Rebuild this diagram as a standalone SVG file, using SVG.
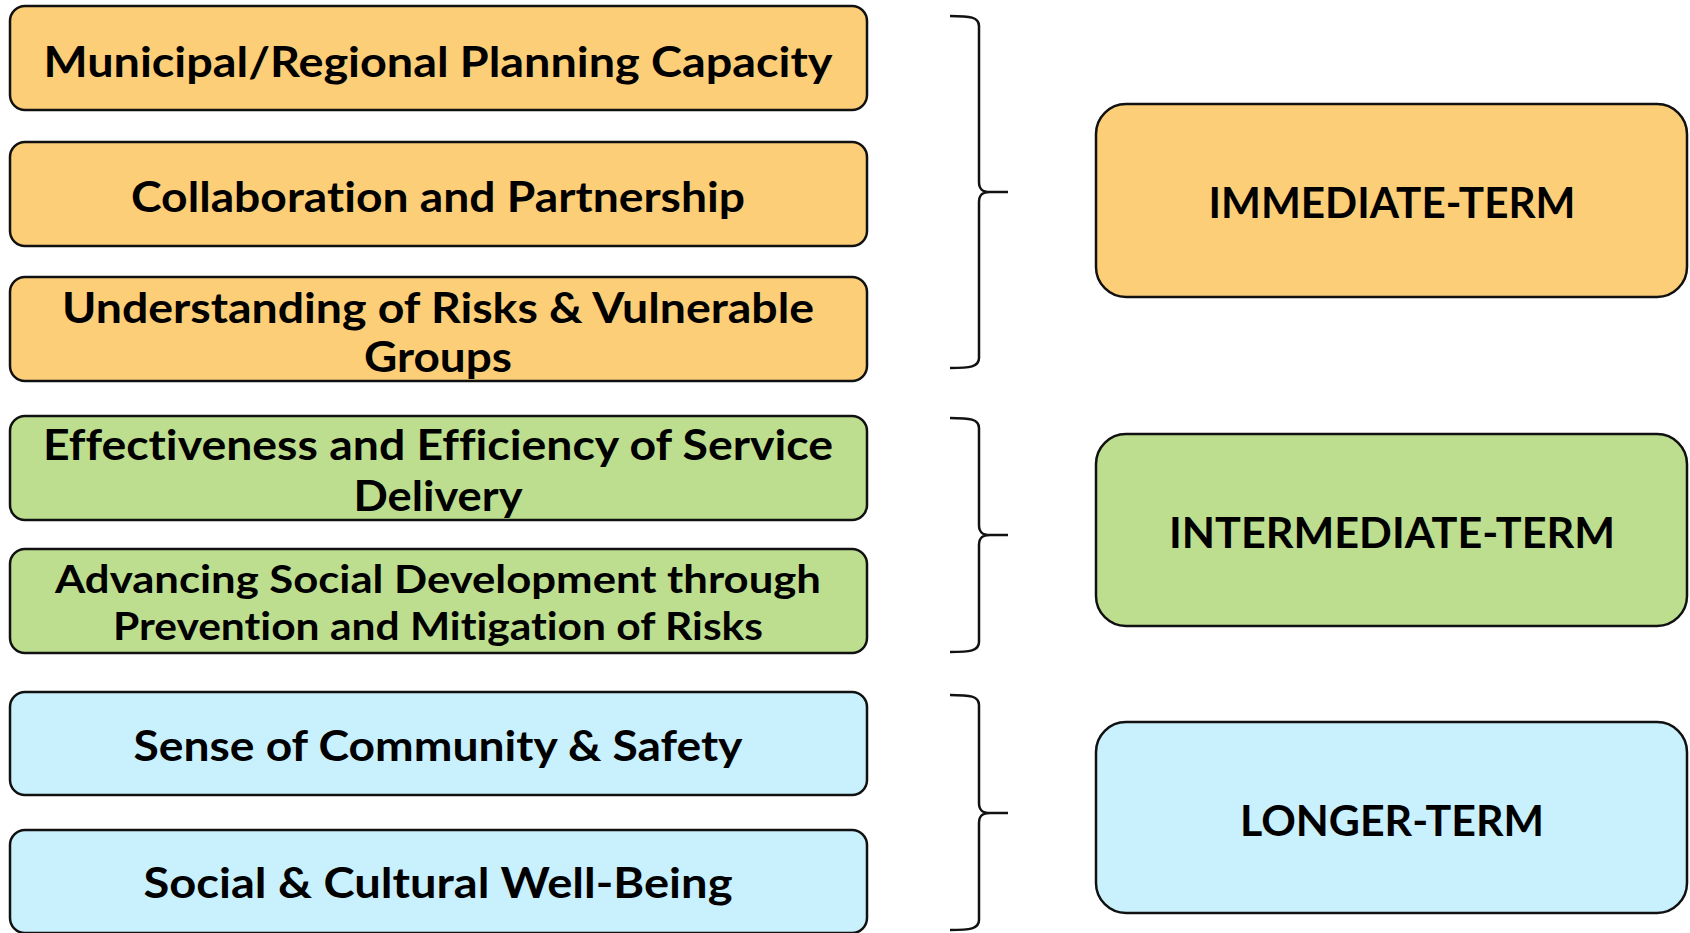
<svg xmlns="http://www.w3.org/2000/svg" width="1690" height="933" viewBox="0 0 1690 933">
  <style>
    .box { stroke: #111; stroke-width: 2.5; }
    .imm { fill: #FBCE77; }
    .mid { fill: #BDDE8F; }
    .lng { fill: #C8F0FD; }
    .lbl { font-family: Lato, "Open Sans", "Liberation Sans", sans-serif; font-weight: 700; font-size: 42px; fill: #000; text-anchor: middle; font-variant-ligatures: none; }
    .sm { font-size: 39px; }
    .brace { fill: none; stroke: #111; stroke-width: 2.5; stroke-linejoin: round; }
  </style>
  <rect width="1690" height="933" fill="#fff"/>

  <!-- outcome boxes, left column -->
  <g id="planning-capacity">
    <rect class="box imm" x="10" y="6" width="857" height="104" rx="15"/>
    <text class="lbl" x="438" y="77" textLength="789" lengthAdjust="spacingAndGlyphs">Municipal/Regional Planning Capacity</text>
  </g>
  <g id="collaboration">
    <rect class="box imm" x="10" y="142" width="857" height="104" rx="15"/>
    <text class="lbl" x="438" y="212" textLength="614" lengthAdjust="spacingAndGlyphs">Collaboration and Partnership</text>
  </g>
  <g id="understanding-risks">
    <rect class="box imm" x="10" y="277" width="857" height="104" rx="15"/>
    <text class="lbl" x="438" y="323" textLength="752" lengthAdjust="spacingAndGlyphs">Understanding of Risks &amp; Vulnerable</text>
    <text class="lbl" x="438" y="372" textLength="148" lengthAdjust="spacingAndGlyphs">Groups</text>
  </g>
  <g id="service-delivery">
    <rect class="box mid" x="10" y="416" width="857" height="104" rx="15"/>
    <text class="lbl" x="438" y="460" textLength="790" lengthAdjust="spacingAndGlyphs">Effectiveness and Efficiency of Service</text>
    <text class="lbl" x="438" y="511" textLength="169" lengthAdjust="spacingAndGlyphs">Delivery</text>
  </g>
  <g id="social-development">
    <rect class="box mid" x="10" y="549" width="857" height="104" rx="15"/>
    <text class="lbl sm" x="438" y="593" textLength="766" lengthAdjust="spacingAndGlyphs">Advancing Social Development through</text>
    <text class="lbl sm" x="438" y="640" textLength="650" lengthAdjust="spacingAndGlyphs">Prevention and Mitigation of Risks</text>
  </g>
  <g id="community-safety">
    <rect class="box lng" x="10" y="692" width="857" height="103" rx="15"/>
    <text class="lbl" x="438" y="761" textLength="609" lengthAdjust="spacingAndGlyphs">Sense of Community &amp; Safety</text>
  </g>
  <g id="cultural-wellbeing">
    <rect class="box lng" x="10" y="830" width="857" height="103" rx="15"/>
    <text class="lbl" x="438" y="898" textLength="589" lengthAdjust="spacingAndGlyphs">Social &amp; Cultural Well-Being</text>
  </g>

  <!-- braces grouping outcomes by term -->
  <g id="connectors">
    <path class="brace" d="M950,16 C970,16 979,17 979,26 V182 C979,189 982,192 990,192 H1008 M990,192 C982,192 979,195 979,202 V358 C979,367 970,368 950,368"/>
    <path class="brace" d="M950,418 C970,418 979,419 979,428 V525 C979,532 982,535 990,535 H1008 M990,535 C982,535 979,538 979,545 V642 C979,651 970,652 950,652"/>
    <path class="brace" d="M950,695 C970,695 979,696 979,705 V803 C979,810 982,813 990,813 H1008 M990,813 C982,813 979,816 979,823 V920 C979,929 970,930 950,930"/>
  </g>

  <!-- term boxes, right column -->
  <g id="immediate-term">
    <rect class="box imm" x="1096" y="104" width="591" height="193" rx="30"/>
    <text class="lbl" x="1392" y="218" textLength="367" lengthAdjust="spacingAndGlyphs">IMMEDIATE-TERM</text>
  </g>
  <g id="intermediate-term">
    <rect class="box mid" x="1096" y="434" width="591" height="192" rx="30"/>
    <text class="lbl" x="1392" y="548" textLength="446" lengthAdjust="spacingAndGlyphs">INTERMEDIATE-TERM</text>
  </g>
  <g id="longer-term">
    <rect class="box lng" x="1096" y="722" width="591" height="191" rx="30"/>
    <text class="lbl" x="1392" y="836" textLength="304" lengthAdjust="spacingAndGlyphs">LONGER-TERM</text>
  </g>
</svg>
